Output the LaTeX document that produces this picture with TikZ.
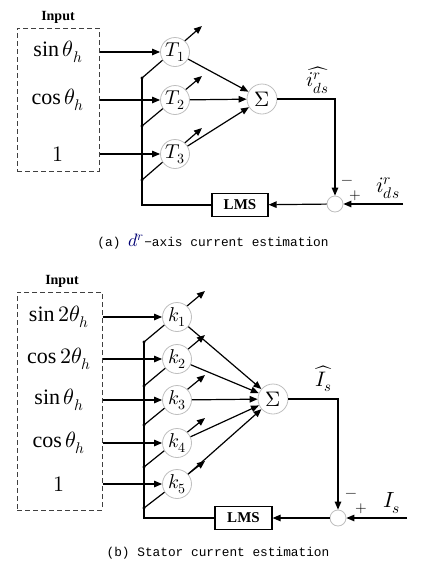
\documentclass[tikz,border=0pt]{standalone}
\usepackage{unicode-math}
\setmainfont{Liberation Serif}
\newfontfamily\capfont{Liberation Mono}
\usetikzlibrary{arrows.meta}

\tikzset{
	arr/.style={-{Triangle[length=8pt,width=6.5pt]}},
	sig/.style={font=\fontsize{22}{26}\selectfont},
	weight/.style={circle,draw=gray!50,line width=0.8pt,fill=white,minimum size=29pt,inner sep=0pt,font=\fontsize{20}{24}\selectfont},
	sumnode/.style={circle,draw=gray!50,line width=0.8pt,fill=white,minimum size=30pt,inner sep=0pt,font=\fontsize{21}{25}\selectfont},
	joint/.style={circle,draw=gray!50,line width=0.8pt,fill=white,minimum size=16pt,inner sep=0pt},
	lmsbox/.style={draw,line width=1.2pt,minimum height=23pt,inner sep=0pt,font=\fontsize{15}{18}\selectfont\bfseries},
	inbox/.style={draw=black!75,line width=1pt,dash pattern=on 5pt off 3pt},
	title/.style={font=\fontsize{14}{16}\selectfont\bfseries},
	sign/.style={font=\fontsize{15}{18}\selectfont},
	caption/.style={font=\capfont\fontsize{12.8}{15}\selectfont}
}

\begin{document}
\begin{tikzpicture}[x=1pt,y=-1pt,line width=1.2pt]
	\useasboundingbox (0,0) rectangle (435,571);

	% ---------------- (a) d^r-axis current estimation ----------------
	\node[title] (inA) at (58,17) {Input};
	\node[inbox,minimum width=82pt,minimum height=143pt] (boxA) at (58,99.5) {}; % input box
	\node[sig] (a1) at (58,52) {$\sin\theta_h$};
	\node[sig] (a2) at (58,100) {$\cos\theta_h$};
	\node[sig] (a3) at (58,154) {$1$};

	\coordinate (dA1) at (142,78); % bus taps
	\coordinate (dA2) at (142,126);
	\coordinate (dA3) at (142,180);
	\coordinate (tA1) at (202,26); % adaptation tips
	\coordinate (tA2) at (202,76);
	\coordinate (tA3) at (202,128);
	\draw[arr] (dA1)--(tA1);
	\draw[arr] (dA2)--(tA2);
	\draw[arr] (dA3)--(tA3);
	\fill (dA1) circle (1.6pt);
	\fill (dA2) circle (1.6pt);
	\fill (dA3) circle (1.6pt);

	\node[weight] (T1) at (175,52) {$T_1$};
	\node[weight] (T2) at (175,100) {$T_2$};
	\node[weight] (T3) at (175,154) {$T_3$};

	\draw[arr] (boxA.east |- T1)--(T1);
	\draw[arr] (boxA.east |- T2)--(T2);
	\draw[arr] (boxA.east |- T3)--(T3);

	\node[sumnode] (SA) at (262,99) {$\Sigma$};
	\draw[arr] (T1)--(SA);
	\draw[arr] (T2)--(SA);
	\draw[arr] (T3)--(SA);

	\node[joint] (eA) at (335,204) {}; % error junction
	\node[lmsbox,minimum width=56pt] (lmsA) at (240,205) {LMS};
	\coordinate (iA) at (403,204); % measured current
	\draw[arr] (SA)-|(eA);
	\draw[arr] (iA)--(eA);
	\draw[arr] (eA)--(lmsA);
	\draw (lmsA)-|(dA1); % bus

	\node[font=\fontsize{21}{25}\selectfont] (hatA) at (318,80) {$\widehat{i^r_{ds}}$};
	\node[sign] (mA) at (347,182) {$-$};
	\node[sign] (pA) at (355,196) {$+$};
	\node[font=\fontsize{22}{26}\selectfont] (idA) at (388,188) {$i^r_{ds}$};

	\node[caption] (capA) at (213,242) {(a) {\color{blue!45!black}\fontsize{18}{20}\selectfont$d^r$}−axis current estimation};

	% ---------------- (b) Stator current estimation ----------------
	\node[title] (inB) at (62,281) {Input};
	\node[inbox,minimum width=85pt,minimum height=218pt] (boxB) at (59.5,401) {}; % input box
	\node[sig] (b1) at (59,317) {$\sin 2\theta_h$};
	\node[sig] (b2) at (59,359) {$\cos 2\theta_h$};
	\node[sig] (b3) at (59,400) {$\sin\theta_h$};
	\node[sig] (b4) at (59,443) {$\cos\theta_h$};
	\node[sig] (b5) at (59,484) {$1$};

	\coordinate (dB1) at (144,342); % bus taps
	\coordinate (dB2) at (144,386);
	\coordinate (dB3) at (144,425);
	\coordinate (dB4) at (144,467);
	\coordinate (dB5) at (144,508);
	\coordinate (tB1) at (205,291); % adaptation tips
	\coordinate (tB2) at (205,335);
	\coordinate (tB3) at (205,375);
	\coordinate (tB4) at (205,418);
	\coordinate (tB5) at (205,461);
	\draw[arr] (dB1)--(tB1);
	\draw[arr] (dB2)--(tB2);
	\draw[arr] (dB3)--(tB3);
	\draw[arr] (dB4)--(tB4);
	\draw[arr] (dB5)--(tB5);
	\fill (dB1) circle (1.6pt);
	\fill (dB2) circle (1.6pt);
	\fill (dB3) circle (1.6pt);
	\fill (dB4) circle (1.6pt);
	\fill (dB5) circle (1.6pt);

	\node[weight] (k1) at (177,317) {$k_1$};
	\node[weight] (k2) at (177,359) {$k_2$};
	\node[weight] (k3) at (177,400) {$k_3$};
	\node[weight] (k4) at (177,443) {$k_4$};
	\node[weight] (k5) at (177,484) {$k_5$};

	\draw[arr] (boxB.east |- k1)--(k1);
	\draw[arr] (boxB.east |- k2)--(k2);
	\draw[arr] (boxB.east |- k3)--(k3);
	\draw[arr] (boxB.east |- k4)--(k4);
	\draw[arr] (boxB.east |- k5)--(k5);

	\node[sumnode] (SB) at (273,399) {$\Sigma$};
	\draw[arr] (k1)--(SB);
	\draw[arr] (k2)--(SB);
	\draw[arr] (k3)--(SB);
	\draw[arr] (k4)--(SB);
	\draw[arr] (k5)--(SB);

	\node[joint] (eB) at (338,518) {}; % error junction
	\node[lmsbox,minimum width=57pt] (lmsB) at (243.5,518) {LMS};
	\coordinate (iB) at (407,518); % measured current
	\draw[arr] (SB)-|(eB);
	\draw[arr] (iB)--(eB);
	\draw[arr] (eB)--(lmsB);
	\draw (lmsB)-|(dB1); % bus

	\node[font=\fontsize{21}{25}\selectfont] (hatB) at (324,379) {$\widehat{I_s}$};
	\node[sign] (mB) at (351,495) {$-$};
	\node[sign] (pB) at (361,509) {$+$};
	\node[font=\fontsize{22}{26}\selectfont] (isB) at (392,503) {$I_s$};

	\node[caption] (capB) at (218,553) {(b) Stator current estimation};
\end{tikzpicture}
\end{document}
